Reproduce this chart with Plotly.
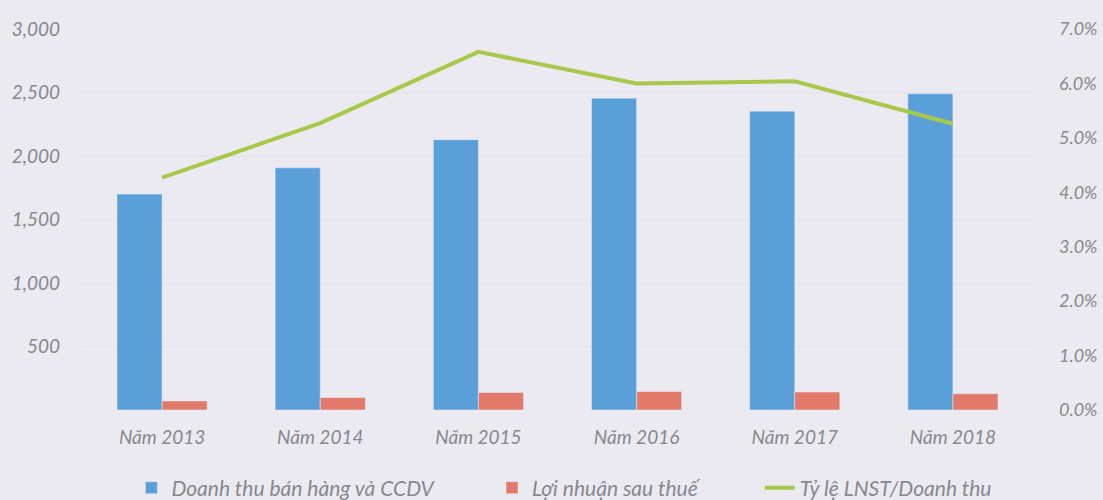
import plotly.graph_objects as go

years = ["Năm 2013", "Năm 2014", "Năm 2015", "Năm 2016", "Năm 2017", "Năm 2018"]
revenue = [1700, 1907, 2128, 2455, 2353, 2490]
profit = [71, 98, 138, 146, 141, 128]
ratio = [0.0427, 0.0527, 0.0658, 0.0600, 0.0604, 0.0526]

left_ticks = [500, 1000, 1500, 2000, 2500, 3000]
right_ticks = [0, 0.01, 0.02, 0.03, 0.04, 0.05, 0.06, 0.07]

font_name = "Lato"
gray = "#87878d"
fsize = 19

fig = go.Figure()
fig.add_trace(go.Bar(
    x=years, y=revenue, name="Doanh thu bán hàng và CCDV",
    marker=dict(color="#5b9fd9"), legend="legend",
))
fig.add_trace(go.Bar(
    x=years, y=profit, name="Lợi nhuận sau thuế",
    marker=dict(color="#e27a6c"), legend="legend2",
))
fig.add_trace(go.Scatter(
    x=years, y=ratio, name="Tỷ lệ LNST/Doanh thu", yaxis="y2",
    mode="lines", line=dict(color="#a8c84c", width=4), legend="legend3",
))

legend_style = dict(orientation="h", y=-0.205, yanchor="middle", xanchor="left",
                    font=dict(size=21, style="italic", color=gray),
                    bgcolor="rgba(0,0,0,0)", visible=True)

fig.update_layout(
    width=1103, height=500,
    showlegend=True,
    paper_bgcolor="#eceaf1", plot_bgcolor="#eceaf1",
    barmode="group", bargap=0.43, bargroupgap=0,
    margin=dict(l=83, r=71, t=29, b=90, autoexpand=False),
    font=dict(family=font_name, color=gray, size=fsize, style="italic"),
    xaxis=dict(showgrid=False, tickfont=dict(size=fsize, style="italic"), ticks="",
               ticklabelstandoff=14),
    yaxis=dict(range=[0, 3000], tickvals=left_ticks, tickformat=",",
               showgrid=True, gridcolor="#e3e2ea", zeroline=False,
               tickfont=dict(size=fsize, style="italic"), ticklabelstandoff=22),
    yaxis2=dict(range=[0, 0.07], tickvals=right_ticks, tickformat=".1%",
                overlaying="y", side="right", showgrid=False, zeroline=False,
                tickfont=dict(size=18, style="italic"), ticklabelstandoff=26),
    legend=dict(x=0.051, **legend_style),
    legend2=dict(x=0.431, **legend_style),
    legend3=dict(x=0.713, **legend_style),
)

fig.write_html("out.html", config={"displayModeBar": False},
               post_script="document.body.style.margin='0';")
